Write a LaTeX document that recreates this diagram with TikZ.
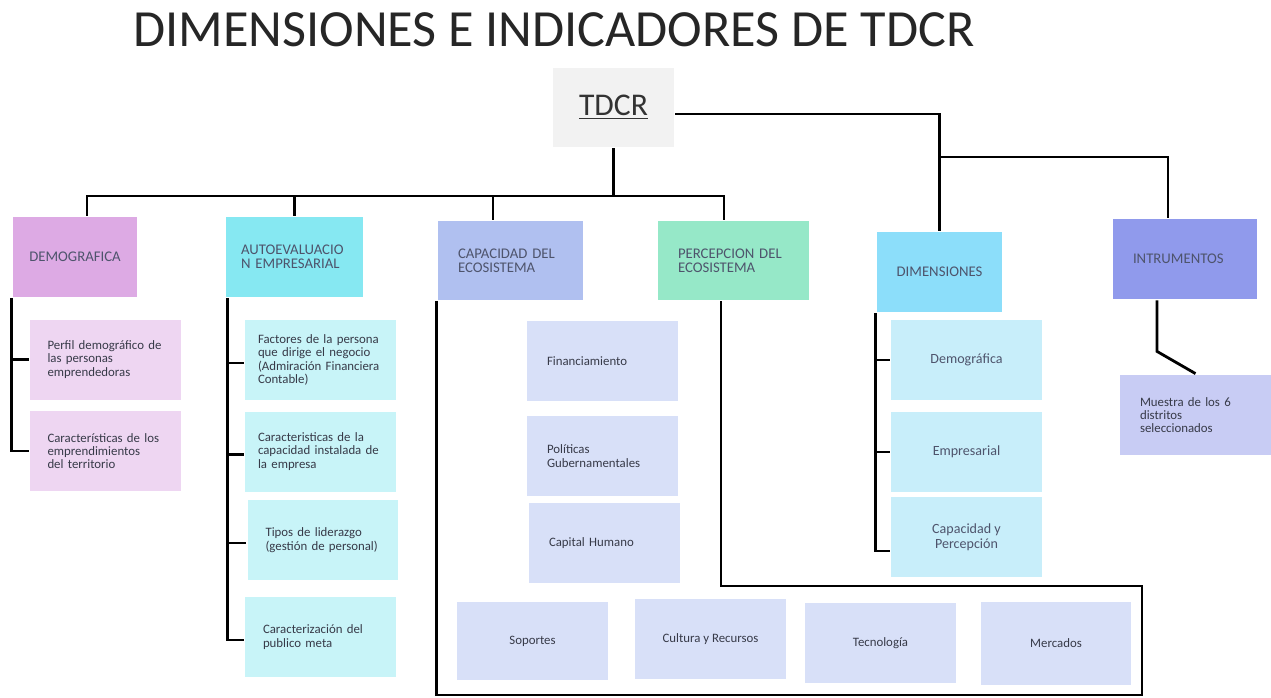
\documentclass[tikz,border=0pt]{standalone}
\usepackage{fontspec}
\setmainfont{Carlito}
\hyphenpenalty=10000

\definecolor{rootfill}{RGB}{242,242,242}
\definecolor{demofill}{RGB}{221,170,228}
\definecolor{autofill}{RGB}{134,232,242}
\definecolor{capfill}{RGB}{176,192,240}
\definecolor{percfill}{RGB}{150,232,200}
\definecolor{dimfill}{RGB}{140,222,250}
\definecolor{instfill}{RGB}{144,154,236}
\definecolor{demosub}{RGB}{238,214,242}
\definecolor{autosub}{RGB}{200,244,248}
\definecolor{capsub}{RGB}{216,224,248}
\definecolor{dimsub}{RGB}{200,238,250}
\definecolor{instsub}{RGB}{200,204,244}
\definecolor{hdrtext}{RGB}{78,84,108}
\definecolor{subtext}{RGB}{55,58,72}

\begin{document}
\begin{tikzpicture}[x=0.02cm,y=-0.02cm,line width=1.6pt,
  box/.style={minimum height=1.6cm,inner ysep=0pt,inner xsep=0pt},
  hdr/.style={box,font=\fontsize{8.4}{7.8}\selectfont,text=hdrtext},
  sub/.style={box,minimum width=3.02cm,font=\fontsize{7.3}{7.6}\selectfont,text=subtext},
  dsub/.style={sub,fill=dimsub,align=center,font=\fontsize{8}{8.6}\selectfont,text=hdrtext},
  lft/.style={align=left,text width=#1}]
\useasboundingbox (0,0) rectangle (1271,697);

\node[font=\fontsize{29.7}{30}\selectfont,text=black!85] (title) at (554,30) {DIMENSIONES E INDICADORES DE TDCR};

\node[box,fill=rootfill,minimum width=2.42cm,minimum height=1.58cm,font=\fontsize{18}{19}\selectfont,text=black!80] (tdcr) at (613.5,107.5) {\underline{TDCR}};

\node[hdr,fill=demofill,minimum width=2.48cm] (demo) at (75,257) {DEMOGRAFICA};
\node[hdr,fill=autofill,minimum width=2.74cm,lft=2.14cm] (auto) at (294.5,257) {AUTOEVALUACIO\\N EMPRESARIAL};
\node[hdr,fill=capfill,minimum width=2.9cm,minimum height=1.58cm,lft=2.1cm] (cap) at (510.5,260.5) {CAPACIDAD DEL\\ECOSISTEMA};
\node[hdr,fill=percfill,minimum width=3.02cm,minimum height=1.58cm,lft=2.22cm] (perc) at (733.5,260.5) {PERCEPCION DEL\\ECOSISTEMA};
\node[hdr,fill=dimfill,minimum width=2.5cm] (dim) at (939.5,272) {DIMENSIONES};
\node[hdr,fill=instfill,minimum width=2.88cm,lft=2.08cm] (inst) at (1185,259) {INTRUMENTOS};

\node[sub,fill=demosub,lft=2.32cm] (perfil) at (105.5,359.5) {Perfil demográfico de\\las personas\\emprendedoras};
\node[sub,fill=demosub,lft=2.32cm] (caract) at (105.5,451) {Características de los\\emprendimientos\\del territorio};

\node[sub,fill=autosub,lft=2.5cm] (factores) at (320.5,360) {Factores de la persona\\que dirige el negocio\\(Admiración Financiera\\Contable)};
\node[sub,fill=autosub,lft=2.5cm] (capinst) at (320.5,451.5) {Caracteristicas de la\\capacidad instalada de\\la empresa};
\node[sub,fill=autosub,lft=2.3cm] (tipos) at (323,540) {Tipos de liderazgo\\(gestión de personal)};
\node[sub,fill=autosub,lft=2.3cm] (publico) at (320.5,637) {Caracterización del\\publico meta};

\node[sub,fill=capsub,lft=2.22cm] (financ) at (602.5,361) {Financiamiento};
\node[sub,fill=capsub,lft=2.22cm] (polit) at (602.5,456) {Políticas\\Gubernamentales};
\node[sub,fill=capsub,lft=2.22cm] (capital) at (604.5,543) {Capital Humano};

\node[dsub] (dimdemo) at (966.5,360) {Demográfica};
\node[dsub] (dimemp) at (966.5,452) {Empresarial};
\node[dsub] (dimcap) at (966.5,537) {Capacidad y\\Percepción};

\node[sub,fill=instsub,lft=2.22cm] (muestra) at (1195.5,415) {Muestra de los 6\\distritos\\seleccionados};

\node[sub,fill=capsub,minimum height=1.56cm] (soportes) at (532.5,641) {Soportes};
\node[sub,fill=capsub] (cultura) at (710.5,639) {Cultura y Recursos};
\node[sub,fill=capsub] (tecno) at (880.5,643) {Tecnología};
\node[sub,fill=capsub,minimum width=3cm,minimum height=1.66cm] (mercados) at (1056,643.5) {Mercados};

\coordinate (busy) at (0,196);
\coordinate (jr) at (0,157);
\coordinate (lpA) at (1142,586);
\coordinate (lpB) at (1142,695);

\draw (tdcr.south) -- (tdcr.south |- busy);
\draw ([xshift=0.24cm]demo.north) |- (tdcr.south |- busy) -| ([xshift=-0.19cm]perc.north);
\draw (auto.north) -- (auto.north |- busy);
\draw ([xshift=-0.35cm]cap.north) -- ([xshift=-0.35cm]cap.north |- busy);

\draw ([yshift=-0.13cm]tdcr.east) -| (dim.north);
\draw (dim.north |- jr) -| ([xshift=-0.34cm]inst.north);

\draw (demo.south west) |- (perfil.west);
\draw (demo.south west) |- (caract.west);
\foreach \c in {factores,capinst,tipos,publico}
\draw ([xshift=0.06cm]auto.south west) |- ([yshift=-0.06cm]\c.west);
\foreach \c in {dimdemo,dimemp}
\draw (dim.south west) |- (\c.west);
\draw (dim.south west) |- ([yshift=-0.28cm]dimcap.west);

\draw ([xshift=-0.25cm]perc.south) |- (lpA) -- (lpB) -| (cap.south west);
\draw ([xshift=-0.56cm]inst.south) -- ++(0,51) -- (muestra.north);
\end{tikzpicture}
\end{document}
